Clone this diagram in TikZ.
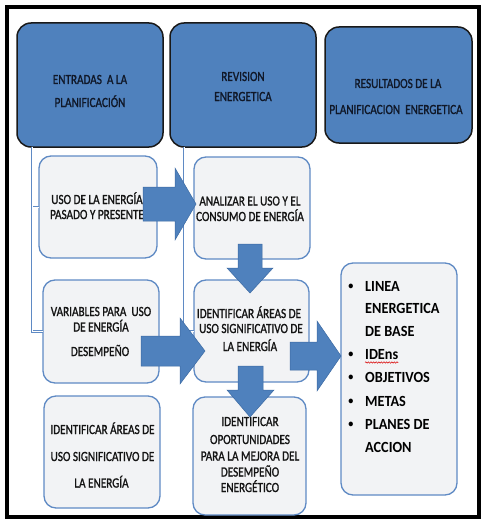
\documentclass[tikz,border=0pt]{standalone}
\usepackage{fontspec}
\newfontfamily\cf[FakeStretch=0.8,FakeBold=1.2]{Carlito}
\newfontfamily\cfb[FakeStretch=0.92]{Carlito}
\usetikzlibrary{calc,decorations.pathmorphing}
\definecolor{cblue}{HTML}{4F81BD}
\definecolor{cbluedark}{HTML}{3C6AA3}
\definecolor{cline}{HTML}{5F8AC4}
\definecolor{cfill}{HTML}{F2F3F5}
\definecolor{txt}{HTML}{141414}
\definecolor{txtb}{HTML}{101828}
\begin{document}
\begin{tikzpicture}[x=1pt,y=-1pt,
  bluebox/.style={draw=black!90, line width=1.5pt, fill=cblue, rounded corners=14pt, inner sep=0pt, outer sep=0pt},
  lightbox/.style={draw=cline, line width=1.3pt, fill=cfill, rounded corners=12pt, inner sep=0pt, outer sep=0pt},
  conn/.style={draw=cline, line width=0.6pt, double=white, double distance=0.9pt},
  barrow/.style={fill=cblue, draw=cbluedark, line width=0.5pt, line join=miter},
  ln/.style={anchor=base, inner sep=0pt, text=txt, font=\cf\fontsize{14}{16}\selectfont},
  lnb/.style={ln, text=txtb},
  bl/.style={anchor=base west, inner sep=0pt, text=black, font=\cfb\bfseries\fontsize{15.5}{18}\selectfont},
  bul/.style={anchor=base, inner sep=0pt, text=black, font=\cfb\bfseries\fontsize{11}{13}\selectfont}
]
\useasboundingbox (0,0) rectangle (482,519);
% outer frame
\draw[line width=3.5pt, black] (7,7) rectangle (479,517);

% top blue boxes
\node[bluebox, minimum width=146pt, minimum height=124pt] (b1) at (90,85) {};
\node[bluebox, minimum width=146pt, minimum height=124pt] (b2) at (243,85) {};
\node[bluebox, minimum width=147pt, minimum height=116pt] (b3) at (398.5,85) {};

% light boxes
\node[lightbox, minimum width=118pt, minimum height=102pt] (l1) at (98,207) {};
\node[lightbox, minimum width=116pt, minimum height=102pt] (l2) at (252,208) {};
\node[lightbox, minimum width=116pt, minimum height=103pt] (l3) at (101,331.5) {};
\node[lightbox, minimum width=115pt, minimum height=102pt] (l4) at (251.5,331) {};
\node[lightbox, minimum width=116pt, minimum height=112pt] (l5) at (102,452) {};
\node[lightbox, minimum width=113pt, minimum height=118pt] (l6) at (249.5,456) {};
\node[lightbox, minimum width=116pt, minimum height=232pt] (l7) at (399,379) {};

% connectors
\coordinate (k1) at ($(b1.south west)+(15,0)$);
\coordinate (k2) at ($(b2.south west)+(14,0)$);
\draw[conn] (k1) |- (l3.west);
\draw[conn] (l1.west) -| (k1);
\draw[conn] (k2) |- (l4.west);
\draw[conn] (l2.west) -| (k2);

% texts in blue boxes
\node[lnb] (t1a) at (90,84) {ENTRADAS\ \ A LA};
\node[lnb] (t1b) at (90,107) {PLANIFICACIÓN};
\node[lnb] (t2a) at (243,81) {REVISION};
\node[lnb] (t2b) at (243,101) {ENERGETICA};
\node[lnb] (t3a) at (398,88) {RESULTADOS DE LA};
\node[lnb] (t3b) at (396,114) {PLANIFICACION\ \ ENERGETICA};

% texts in light boxes
\node[ln] (u1a) at (97,204) {USO DE LA ENERGÍA};
\node[ln] (u1b) at (97,219) {PASADO Y PRESENTE};
\node[ln] (u2a) at (250,205.5) {ANALIZAR EL USO Y EL};
\node[ln] (u2b) at (250,221) {CONSUMO DE ENERGÍA};
\node[ln] (u3a) at (101,316) {VARIABLES PARA\ \ USO};
\node[ln] (u3b) at (101,331.5) {DE ENERGÍA};
\node[ln] (u3c) at (100,356) {DESEMPEÑO};
\node[ln] (u4a) at (249,318) {IDENTIFICAR ÁREAS DE};
\node[ln] (u4b) at (251,333) {USO SIGNIFICATIVO DE};
\node[ln] (u4c) at (250,351) {LA ENERGÍA};
\node[ln] (u5a) at (102.5,434) {IDENTIFICAR ÁREAS DE};
\node[ln] (u5b) at (102.5,461) {USO SIGNIFICATIVO DE};
\node[ln] (u5c) at (101.5,487.5) {LA ENERGÍA};
\node[ln] (u6a) at (250,426) {IDENTIFICAR};
\node[ln] (u6b) at (250,444) {OPORTUNIDADES};
\node[ln] (u6c) at (250,460.5) {PARA LA MEJORA DEL};
\node[ln] (u6d) at (250,476.5) {DESEMPEÑO};
\node[ln] (u6e) at (250,492) {ENERGÉTICO};

% bullet list
\foreach \y/\nm in {289.5/p1,357.5/p4,380.5/p5,404.5/p6,427.5/p7}{
  \node[bul] (\nm) at (351,\y) {•};
}
\node[bl] (r1) at (365,291) {LINEA};
\node[bl] (r2) at (365,313) {ENERGETICA};
\node[bl] (r3) at (365,336) {DE BASE};
\node[bl] (r4) at (365,359) {IDEns};
\node[bl] (r5) at (365,382) {OBJETIVOS};
\node[bl] (r6) at (365,406) {METAS};
\node[bl] (r7) at (365,429) {PLANES DE};
\node[bl] (r8) at (365,452) {ACCION};
\draw[red!85!black, line width=0.5pt, decorate, decoration={snake, amplitude=0.7pt, segment length=2.6pt}] ($(r4.base west)+(0,3.5)$) -- ($(r4.base east)+(0,3.5)$);

% block arrows
\path[barrow] (143,187) -- (175,187) -- (175,168) -- (196,204) -- (175,240) -- (175,221) -- (143,221) -- cycle;
\path[barrow] (238,244) -- (262,244) -- (262,268) -- (273,268) -- (250,293) -- (227,268) -- (238,268) -- cycle;
\path[barrow] (141,336) -- (180,336) -- (180,318) -- (205,351) -- (180,384) -- (180,366) -- (141,366) -- cycle;
\path[barrow] (290,342) -- (317,342) -- (317,321) -- (341,356) -- (317,391) -- (317,370) -- (290,370) -- cycle;
\path[barrow] (238,366) -- (263,366) -- (263,390) -- (274,390) -- (250,417) -- (227,390) -- (238,390) -- cycle;
\end{tikzpicture}
\end{document}
